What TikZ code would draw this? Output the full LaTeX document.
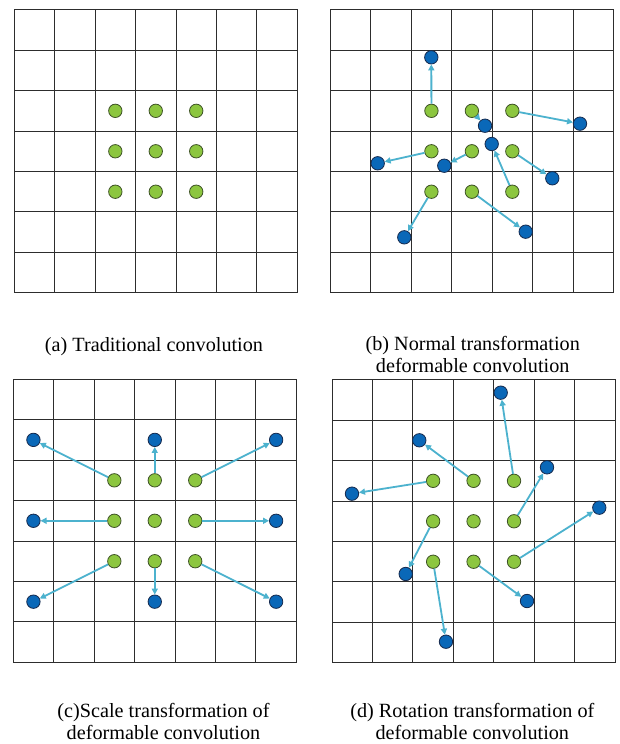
\documentclass[tikz,border=0pt]{standalone}
\usepackage{fontspec}
\setmainfont{Liberation Serif}
\usetikzlibrary{arrows.meta}

\definecolor{gridline}{RGB}{45,45,45}
\definecolor{dotgreen}{RGB}{140,198,63}
\definecolor{dotgreenedge}{RGB}{62,82,38}
\definecolor{dotblue}{RGB}{10,104,184}
\definecolor{dotblueedge}{RGB}{22,42,78}
\definecolor{offsetcol}{RGB}{76,178,206}

\tikzset{
  gridlines/.style={draw=gridline, line width=1pt},
  sample/.style={circle, fill=dotgreen, draw=dotgreenedge, line width=0.8pt,
    minimum size=13.4pt, inner sep=0pt},
  shifted/.style={circle, fill=dotblue, draw=dotblueedge, line width=0.8pt,
    minimum size=13.4pt, inner sep=0pt},
  offsetarrow/.style={draw=offsetcol, line width=1.8pt,
    -{Triangle[length=6pt,width=6pt]}},
  caption/.style={font=\fontsize{20.2}{21.7}\selectfont, align=center,
    inner sep=0pt, anchor=base},
  panel/.style={x=40.45pt, y=-40.45pt}
}

% 7x7 grid with the regular 3x3 sampling points in the middle cells
\newcommand{\kernelgrid}[1]{%
  \draw[gridlines] (0,0) rectangle (7,7);
  \foreach \k in {1,...,6} {
    \draw[gridlines] (\k,0) -- (\k,7);
    \draw[gridlines] (0,\k) -- (7,\k);
  }
  \foreach \i in {0,1,2} {
    \foreach \j in {0,1,2} {
      \node[sample] (#1-g\i\j) at (\i+2.5,\j+2.5) {};
    }
  }
}

\begin{document}
\begin{tikzpicture}[x=1pt, y=-1pt]
  \fill[white] (0,0) rectangle (619,744);
  \useasboundingbox (0,0) rectangle (619,744);

  % (a) regular sampling
  \begin{scope}[shift={(14.2,9.7)}, panel]
    \kernelgrid{a}
  \end{scope}

  % (b) free offsets
  \begin{scope}[shift={(330.3,9.7)}, panel]
    \kernelgrid{b}
    \foreach \s/\px/\py in {00/2.497/1.177, 10/3.825/2.868, 20/6.173/2.818,
                            01/1.172/3.797, 11/2.818/3.857, 21/5.488/4.168,
                            02/1.829/5.627, 12/4.831/5.488, 22/3.990/3.320} {
      \node[shifted] (b-t\s) at (\px,\py) {};
      \draw[offsetarrow] (b-g\s) -- (b-t\s);
    }
  \end{scope}

  % (c) scaled offsets
  \begin{scope}[shift={(13.2,379.2)}, panel]
    \kernelgrid{c}
    \foreach \s/\px/\py in {00/0.5/1.5, 10/3.5/1.5, 20/6.5/1.5,
                            01/0.5/3.5, 21/6.5/3.5,
                            02/0.5/5.5, 12/3.5/5.5, 22/6.5/5.5} {
      \node[shifted] (c-t\s) at (\px,\py) {};
      \draw[offsetarrow] (c-g\s) -- (c-t\s);
    }
  \end{scope}

  % (d) rotated offsets
  \begin{scope}[shift={(332,379.7)}, panel]
    \kernelgrid{d}
    \foreach \s/\px/\py in {20/4.171/0.321, 10/2.158/1.498, 21/5.315/2.166,
                            00/0.494/2.818, 22/6.608/3.164, 01/1.822/4.803,
                            12/4.821/5.471, 02/2.818/6.477} {
      \node[shifted] (d-t\s) at (\px,\py) {};
      \draw[offsetarrow] (d-g\s) -- (d-t\s);
    }
  \end{scope}

  % captions (base anchor sits on the last line of a two-line caption)
  \node[caption] (cap-a) at (154,351) {(a) Traditional convolution};
  \node[caption] (cap-b) at (472.7,372) {(b) Normal transformation\\deformable convolution};
  \node[caption] (cap-c) at (163.5,739.3) {(c)Scale transformation of\\deformable convolution};
  \node[caption] (cap-d) at (472.3,739.3) {(d) Rotation transformation of\\deformable convolution};
\end{tikzpicture}
\end{document}
